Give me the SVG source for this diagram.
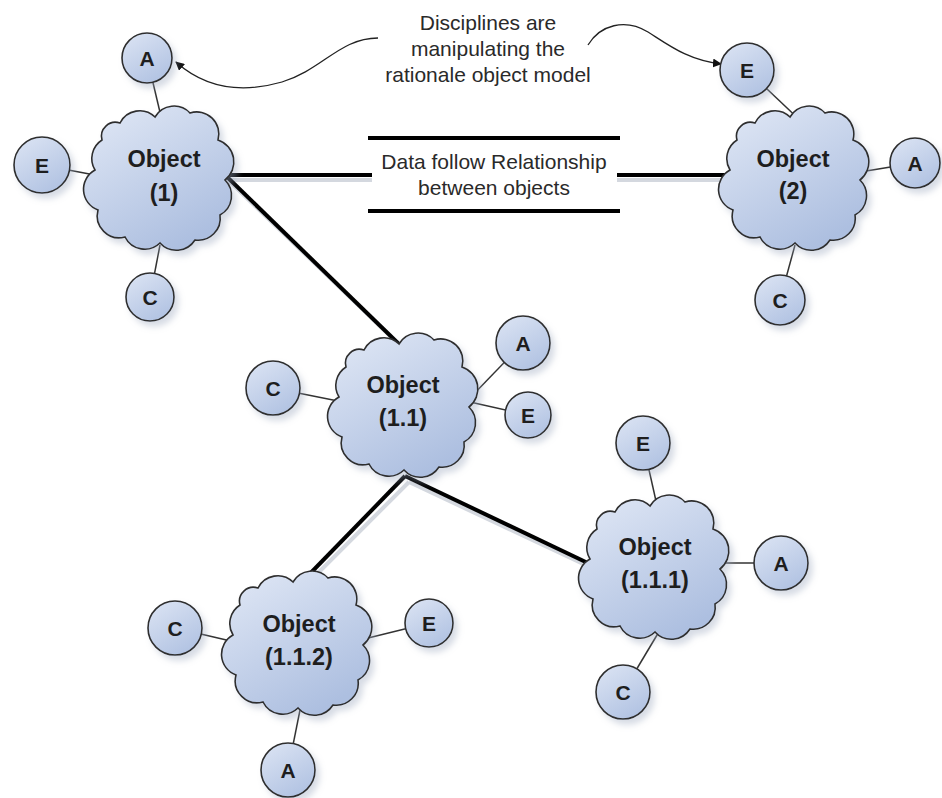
<svg xmlns="http://www.w3.org/2000/svg" width="942" height="798" viewBox="0 0 942 798">
<style>
.cloud{fill:url(#cg);stroke:#2f2f2f;stroke-width:1.6;filter:url(#sh)}
.ball{fill:url(#bg);stroke:#2f2f2f;stroke-width:1.6;filter:url(#sh)}
.ot{font-family:"Liberation Sans",Arial,sans-serif;font-weight:bold;font-size:23.5px;fill:#1e1e1e;text-anchor:middle}
.lt{font-family:"Liberation Sans",Arial,sans-serif;font-weight:bold;font-size:21px;fill:#1e1e1e;text-anchor:middle}
.nt{font-family:"Liberation Sans",Arial,sans-serif;font-size:21px;fill:#2a2a2a;text-anchor:middle}
.thin{stroke:#333;stroke-width:1.5;fill:none}
.thick{stroke:#000;stroke-width:4;fill:none}
.shl{stroke:#d4d8df;stroke-width:4;fill:none}
.curve{stroke:#222;stroke-width:1.3;fill:none;marker-end:url(#ah)}
</style>
<defs>
<linearGradient id="cg" x1="0" y1="0" x2="0.6" y2="1">
<stop offset="0" stop-color="#e2e9f6"/>
<stop offset="1" stop-color="#adbfe0"/>
</linearGradient>
<linearGradient id="bg" x1="0" y1="0" x2="0.6" y2="1">
<stop offset="0" stop-color="#dde5f4"/>
<stop offset="1" stop-color="#b3c4e3"/>
</linearGradient>
<filter id="sh" x="-20%" y="-20%" width="150%" height="150%">
<feDropShadow dx="4" dy="5" stdDeviation="3" flood-color="#9aa6bd" flood-opacity="0.4"/>
</filter>
<marker id="ah" viewBox="0 0 10 10" refX="9" refY="5" markerWidth="9" markerHeight="9" orient="auto" markerUnits="userSpaceOnUse">
<path d="M0,0 L10,5 L0,10 Z" fill="#111"/>
</marker>
<path id="cloud" d="M -40 -52 A 22 22 0 0 1 -5 -58 A 22 22 0 0 1 30 -62 A 22 22 0 0 1 58 -35 A 23 23 0 0 1 65 5 A 22 22 0 0 1 60 40 A 22 22 0 0 1 35 65 A 22 22 0 0 1 0 68 A 22 22 0 0 1 -35 62 A 22 22 0 0 1 -62 35 A 22 22 0 0 1 -65 -5 A 22 22 0 0 1 -58 -35 A 14 14 0 0 1 -40 -52 Z"/>
</defs>
<rect width="942" height="798" fill="#ffffff"/>

<g id="connectors">
<g id="shadows">
<line class="shl" x1="226" y1="178" x2="409" y2="354"/>
<line class="shl" x1="226" y1="180" x2="372" y2="180"/>
<line class="shl" x1="617" y1="180" x2="730" y2="180"/>
<line class="shl" x1="409" y1="482" x2="594" y2="569"/>
<line class="shl" x1="409" y1="482" x2="304" y2="587"/>
</g>
<line class="thick" x1="222" y1="172" x2="405" y2="350"/>
<line class="thick" x1="220" y1="175" x2="372" y2="175"/>
<line class="thick" x1="617" y1="175" x2="735" y2="175"/>
<line class="thick" x1="405" y1="476" x2="592" y2="565"/>
<line class="thick" x1="405" y1="476" x2="298" y2="586"/>

<line class="thin" x1="150" y1="70" x2="163" y2="125"/>
<line class="thin" x1="42" y1="165" x2="100" y2="176"/>
<line class="thin" x1="150" y1="297" x2="160" y2="245"/>
<line class="thin" x1="747" y1="70" x2="805" y2="125"/>
<line class="thin" x1="915" y1="163" x2="860" y2="172"/>
<line class="thin" x1="780" y1="300" x2="795" y2="245"/>
<line class="thin" x1="273" y1="388" x2="338" y2="401"/>
<line class="thin" x1="523" y1="343" x2="468" y2="400"/>
<line class="thin" x1="528" y1="415" x2="470" y2="402"/>
<line class="thin" x1="175" y1="628" x2="235" y2="642"/>
<line class="thin" x1="429" y1="623" x2="360" y2="640"/>
<line class="thin" x1="288" y1="770" x2="300" y2="710"/>
<line class="thin" x1="643" y1="443" x2="658" y2="510"/>
<line class="thin" x1="781" y1="563" x2="720" y2="563"/>
<line class="thin" x1="623" y1="692" x2="660" y2="630"/>

<path class="curve" d="M 378 38 C 340 38, 322 70, 282 82 C 240 94, 205 88, 176 62"/>
<path class="curve" d="M 588 45 C 600 25, 625 18, 648 32 C 670 46, 688 60, 721 64"/>

<g id="rel-label">
<line class="thick" x1="368" y1="138" x2="620" y2="138"/>
<line class="thick" x1="368" y1="211" x2="620" y2="211"/>
<text class="nt" x="494" y="169">Data follow Relationship</text>
<text class="nt" x="494" y="195">between objects</text>
</g>
<g id="note">
<text class="nt" x="488" y="30">Disciplines are</text>
<text class="nt" x="488" y="56">manipulating the</text>
<text class="nt" x="488" y="82">rationale object model</text>
</g>
</g>

<g id="obj1">
<use href="#cloud" class="cloud" transform="translate(160,175)"/>
<text class="ot" x="164" y="167">Object</text>
<text class="ot" x="164" y="201">(1)</text>
</g>
<g id="obj1-A"><circle class="ball" cx="147" cy="58" r="25"/><text class="lt" x="147" y="65.5">A</text></g>
<g id="obj1-E"><circle class="ball" cx="42" cy="165" r="28"/><text class="lt" x="42" y="172.5">E</text></g>
<g id="obj1-C"><circle class="ball" cx="150" cy="297" r="24"/><text class="lt" x="150" y="304.5">C</text></g>

<g id="obj2">
<use href="#cloud" class="cloud" transform="translate(795,175)"/>
<text class="ot" x="793" y="167">Object</text>
<text class="ot" x="793" y="199">(2)</text>
</g>
<g id="obj2-E"><circle class="ball" cx="747" cy="70" r="27"/><text class="lt" x="747" y="77.5">E</text></g>
<g id="obj2-A"><circle class="ball" cx="915" cy="163" r="25"/><text class="lt" x="915" y="170.5">A</text></g>
<g id="obj2-C"><circle class="ball" cx="780" cy="300" r="25"/><text class="lt" x="780" y="307.5">C</text></g>

<g id="obj1-1">
<use href="#cloud" class="cloud" transform="translate(404,402)"/>
<text class="ot" x="403" y="393">Object</text>
<text class="ot" x="403" y="426">(1.1)</text>
</g>
<g id="obj1-1-C"><circle class="ball" cx="273" cy="388" r="27"/><text class="lt" x="273" y="395.5">C</text></g>
<g id="obj1-1-A"><circle class="ball" cx="523" cy="343" r="27"/><text class="lt" x="523" y="350.5">A</text></g>
<g id="obj1-1-E"><circle class="ball" cx="528" cy="415" r="23"/><text class="lt" x="528" y="422.5">E</text></g>

<g id="obj1-1-2">
<use href="#cloud" class="cloud" transform="translate(298,640)"/>
<text class="ot" x="299" y="632">Object</text>
<text class="ot" x="299" y="665">(1.1.2)</text>
</g>
<g id="obj1-1-2-C"><circle class="ball" cx="175" cy="628" r="27"/><text class="lt" x="175" y="635.5">C</text></g>
<g id="obj1-1-2-E"><circle class="ball" cx="429" cy="623" r="24"/><text class="lt" x="429" y="630.5">E</text></g>
<g id="obj1-1-2-A"><circle class="ball" cx="288" cy="770" r="27"/><text class="lt" x="288" y="777.5">A</text></g>

<g id="obj1-1-1">
<use href="#cloud" class="cloud" transform="translate(655,564)"/>
<text class="ot" x="655" y="555">Object</text>
<text class="ot" x="655" y="588">(1.1.1)</text>
</g>
<g id="obj1-1-1-E"><circle class="ball" cx="643" cy="443" r="27"/><text class="lt" x="643" y="450.5">E</text></g>
<g id="obj1-1-1-A"><circle class="ball" cx="781" cy="563" r="27"/><text class="lt" x="781" y="570.5">A</text></g>
<g id="obj1-1-1-C"><circle class="ball" cx="623" cy="692" r="27"/><text class="lt" x="623" y="699.5">C</text></g>
</svg>
